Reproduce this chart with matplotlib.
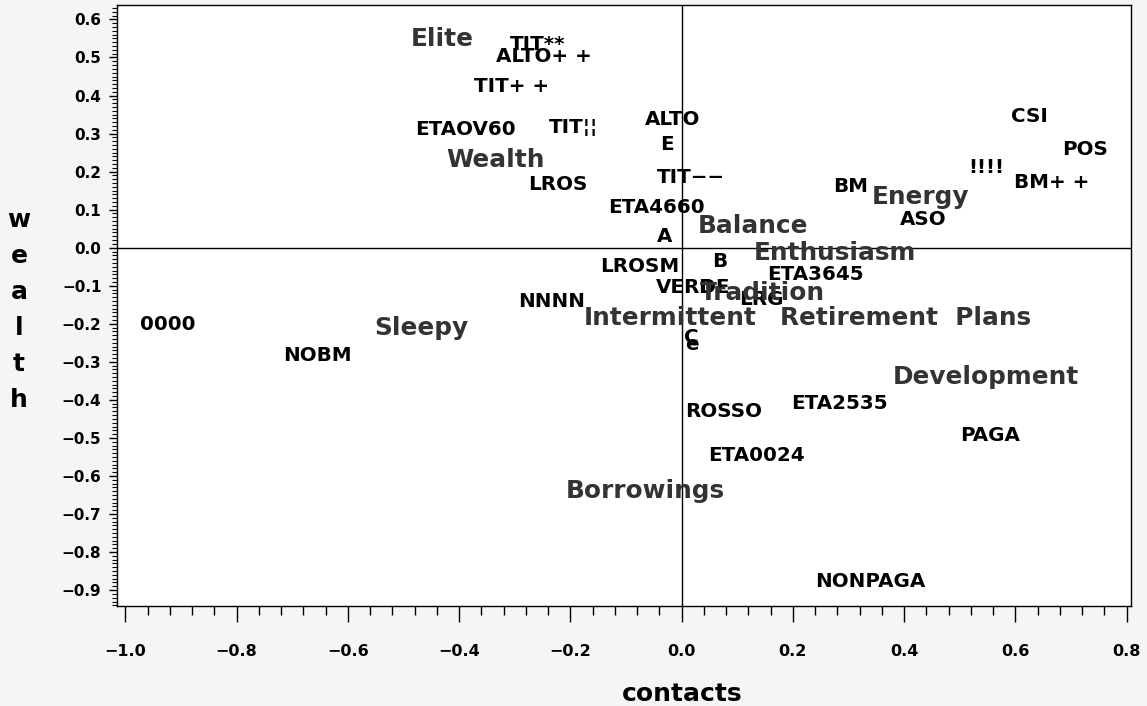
import matplotlib
matplotlib.use("Agg")
import matplotlib.pyplot as plt
from matplotlib.ticker import MultipleLocator, FuncFormatter


# Category points (small black labels), x = contacts, y = wealth (label baseline)
point_labels = ["TIT**", "ALTO+ +", "TIT+ +", "ETAOV60", "TIT¦¦", "ALTO", "E", "TIT−−",
                "LROS", "ETA4660", "A", "BM", "ASO", "CSI", "POS", "!!!!", "BM+ +",
                "LROSM", "B", "ETA3645", "VERDE", "D", "LRG", "NNNN", "0000", "NOBM",
                "C", "e", "ROSSO", "ETA2535", "PAGA", "ETA0024", "NONPAGA"]
point_x = [-0.259, -0.247, -0.305, -0.389, -0.194, -0.016, -0.026, 0.017,
           -0.222, -0.045, -0.030, 0.304, 0.434, 0.626, 0.725, 0.548, 0.665,
           -0.075, 0.069, 0.240, 0.020, 0.044, 0.144, -0.233, -0.923, -0.654,
           0.018, 0.018, 0.076, 0.284, 0.555, 0.135, 0.339]
point_y = [0.520, 0.489, 0.410, 0.296, 0.302, 0.323, 0.257, 0.169,
           0.152, 0.090, 0.016, 0.147, 0.060, 0.331, 0.244, 0.196, 0.156,
           -0.063, -0.050, -0.085, -0.120, -0.119, -0.151, -0.156, -0.216, -0.298,
           -0.251, -0.269, -0.445, -0.424, -0.508, -0.561, -0.893]

# Attribute labels (large grey labels)
attr_labels = ["Elite", "Wealth", "Balance", "Enthusiasm", "Energy", "Tradition",
               "Intermittent", "Retirement  Plans", "Sleepy", "Development", "Borrowings"]
attr_x = [-0.431, -0.334, 0.128, 0.275, 0.430, 0.146, -0.021, 0.403, -0.468, 0.547, -0.065]
attr_y = [0.529, 0.213, 0.038, -0.032, 0.115, -0.138, -0.203, -0.203, -0.230, -0.357, -0.658]

x_ticks = [-1.0, -0.8, -0.6, -0.4, -0.2, 0.0, 0.2, 0.4, 0.6, 0.8]
y_ticks = [0.6, 0.5, 0.4, 0.3, 0.2, 0.1, 0.0, -0.1, -0.2, -0.3, -0.4, -0.5, -0.6, -0.7, -0.8, -0.9]

W, H = 1147, 706
BG = "#f5f5f5"
GREY = "#333333"
FONT = "DejaVu Sans"


def fmt(v, _pos=None):
  s = f"{v:.1f}"
  if s == "-0.0":
    s = "0.0"
  return s.replace("-", "\u2212")


fig = plt.figure(figsize=(W / 100, H / 100), dpi=100, facecolor=BG)
ax = fig.add_axes([116.7 / W, 100.3 / H, (1131 - 116.7) / W, (605.7 - 5) / H])
ax.set_facecolor("white")
ax.set_xlim(-1.0155, 0.808)
ax.set_ylim(-0.941, 0.638)

# Reference lines through the origin
ax.axhline(0, color="black", lw=1)
ax.axvline(0, color="black", lw=1)

for lab, x, y in zip(point_labels, point_x, point_y):
  ax.text(x, y, lab, ha="center", va="baseline", fontsize=14.3,
          fontweight="bold", family=FONT, color="black")

for lab, x, y in zip(attr_labels, attr_x, attr_y):
  ax.text(x, y, lab, ha="center", va="baseline", fontsize=17.8,
          fontweight="bold", family=FONT, color=GREY)

ax.set_xticks(x_ticks)
ax.set_yticks(y_ticks)
ax.xaxis.set_minor_locator(MultipleLocator(0.04))
ax.yaxis.set_minor_locator(MultipleLocator(0.01))
ax.xaxis.set_major_formatter(FuncFormatter(fmt))
ax.yaxis.set_major_formatter(FuncFormatter(fmt))
ax.tick_params(axis="x", which="major", length=11.5, width=1, pad=16, labelsize=11.5)
ax.tick_params(axis="x", which="minor", length=6.5, width=1)
ax.tick_params(axis="y", which="major", length=6, width=1, pad=5, labelsize=11)
ax.tick_params(axis="y", which="minor", length=3.5, width=0.8)
for lbl in ax.get_xticklabels() + ax.get_yticklabels():
  lbl.set_fontweight("bold")
  lbl.set_family(FONT)
for sp in ax.spines.values():
  sp.set_linewidth(1)
  sp.set_color("black")

# Axis titles: horizontal x title, stacked letters for y
fig.text(681.7 / W, 5 / H, "contacts", ha="center", va="baseline",
         fontsize=18, fontweight="bold", family=FONT)
for i, ch in enumerate("wealth"):
  fig.text(19 / W, 1 - (226.7 + 36 * i) / H, ch, ha="center", va="baseline",
           fontsize=18, fontweight="bold", family=FONT)

fig.savefig("out.png", dpi=100, facecolor=BG)
